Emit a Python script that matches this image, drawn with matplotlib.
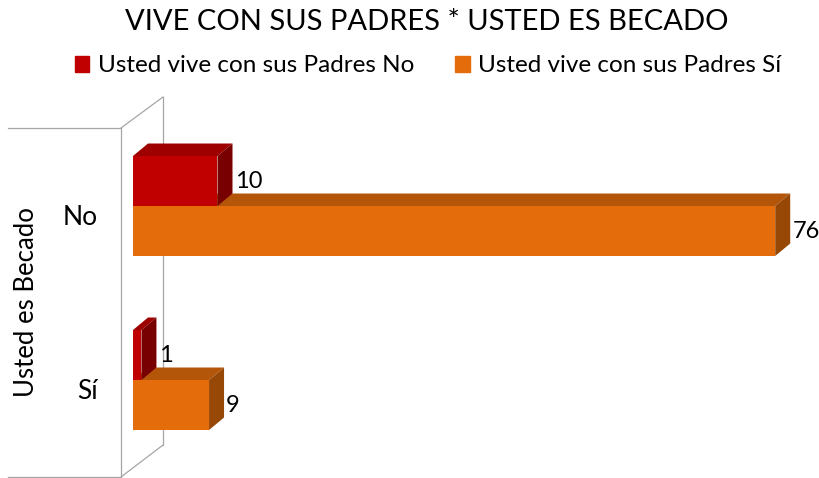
import matplotlib.pyplot as plt
from matplotlib.patches import Polygon, Patch

# =========================
# Data
# =========================

categories = ["No", "Sí"]
series_names = ["Usted vive con sus Padres No", "Usted vive con sus Padres Sí"]
vive_no = [10, 1]
vive_si = [76, 9]

title = "VIVE CON SUS PADRES * USTED ES BECADO"
ylabel = "Usted es Becado"

# colours: front, top, side
red = ("#C00000", "#9E0000", "#780000")
orange = ("#E46C0A", "#B3560A", "#974807")

plt.rcParams["font.family"] = ["Lato", "DejaVu Sans"]

W, H = 820, 478
fig = plt.figure(figsize=(W / 100, H / 100), dpi=100)
ax = fig.add_axes([0, 0, 1, 1])

# scale: value 0 at px 133, 8.45 px per unit; groups 174 px apart
px_per_unit = 8.45
x0 = 133
ax.set_xlim(-x0 / px_per_unit, (W - x0) / px_per_unit)
ax.set_ylim((H - 206) / 174, -206 / 174)
ax.axis("off")

bar_h = 50 / 174
dx = 15 / px_per_unit
dy = 12.5 / 174


def px(x, y):
    return (x / W, 1 - y / H)


# back wall of the 3D chart
wall = dict(color="#A6A6A6", lw=0.9, transform=ax.transAxes, zorder=1)
for (xa, ya), (xb, yb) in [
    ((8, 128), (121, 128)), ((8, 477), (121, 477)),
    ((121, 128), (121, 477)), ((163, 97), (163, 445)),
    ((121, 128), (163, 97)), ((121, 477), (163, 445)),
]:
    p1, p2 = px(xa, ya), px(xb, yb)
    ax.plot([p1[0], p2[0]], [p1[1], p2[1]], **wall)


def bar3d(y, v, cols, z):
    ax.barh(y, v, height=bar_h, left=0, color=cols[0], zorder=z + 0.2)
    top, bot = y - bar_h / 2, y + bar_h / 2
    ax.add_patch(Polygon([(0, top), (dx, top - dy), (v + dx, top - dy), (v, top)],
                         closed=True, color=cols[1], zorder=z, lw=0))
    ax.add_patch(Polygon([(v, top), (v + dx, top - dy), (v + dx, bot - dy), (v, bot)],
                         closed=True, color=cols[2], zorder=z + 0.1, lw=0))
    ax.text(v + dx + 0.25, y, str(v), ha="left", va="center", fontsize=17,
            color="black", zorder=10)


for i, cat in enumerate(categories):
    bar3d(i + bar_h / 2, vive_si[i], orange, 2)
    bar3d(i - bar_h / 2, vive_no[i], red, 3)
    ax.text((98 - x0) / px_per_unit, i + 0.065, cat, ha="right", va="center",
            fontsize=19, color="black")

ax.text(*px(27, 302), ylabel, rotation=90, ha="center", va="center",
        fontsize=18.5, color="black", transform=ax.transAxes)

fig.text(427 / W, 1 - 22 / H, title, ha="center", va="center", fontsize=21,
         color="black")

handles = [Patch(color=red[0]), Patch(color=orange[0])]
fig.legend(handles, series_names, loc="center", ncol=2, frameon=False,
           bbox_to_anchor=(428 / W, 1 - 66 / H), fontsize=17.5,
           handlelength=0.6, handleheight=0.6, handletextpad=0.35,
           columnspacing=1.7, labelcolor="black")

fig.savefig("out.png", dpi=100)
